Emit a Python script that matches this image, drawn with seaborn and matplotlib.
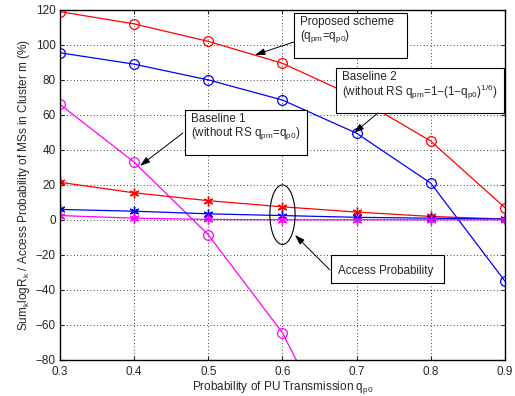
import numpy as np
import seaborn as sns
import matplotlib.pyplot as plt
from matplotlib.patches import Ellipse, Rectangle

# values
q_p0 = [0.3, 0.4, 0.5, 0.6, 0.7, 0.8, 0.9]
proposed_rate = [119, 112, 102, 89.5, 70, 45, 7]
baseline2_rate = [95.5, 89, 80, 68.5, 49.5, 21, -35]
baseline1_x = [0.3, 0.4, 0.5, 0.6, 0.7]
baseline1_rate = [66, 33, -8.5, -64.5, -148]
proposed_access = [21.5, 15.5, 11, 7.5, 4.5, 2, 0.5]
baseline2_access = [6, 5, 3.5, 2.5, 1.5, 1, 0.5]
baseline1_access = [2.5, 1, 0.3, 0.1, 0.1, 0.1, 0.1]

sns.set_style("ticks")
plt.rcParams['font.family'] = ['Liberation Sans', 'DejaVu Sans']
plt.rcParams['mathtext.default'] = 'regular'
plt.rcParams['xtick.direction'] = 'in'
plt.rcParams['ytick.direction'] = 'in'

fig = plt.figure(figsize=(5.15, 3.96), dpi=100)
ax = fig.add_axes([0.1165, 0.091, 0.864, 0.884])

lw = 0.9
series = [
    (q_p0, proposed_rate, '#ff0000', 'o'),
    (q_p0, baseline2_rate, '#0000ff', 'o'),
    (baseline1_x, baseline1_rate, '#ff00ff', 'o'),
    (q_p0, proposed_access, '#ff0000', '*'),
    (q_p0, baseline2_access, '#0000ff', '*'),
    (q_p0, baseline1_access, '#ff00ff', '*'),
]
for x, y, c, m in series:
    if m == 'o':
        sns.lineplot(x=x, y=y, color=c, lw=lw, ax=ax, marker='o', markersize=7,
                     markerfacecolor='none', markeredgecolor=c, markeredgewidth=0.9)
    else:
        # matlab-style asterisk
        sns.lineplot(x=x, y=y, color=c, lw=lw, ax=ax, marker=(6, 2, 0), markersize=7,
                     markerfacecolor=c, markeredgecolor=c, markeredgewidth=1.0)

ax.set_xlim(0.3, 0.9)
ax.set_ylim(-80, 120)
ax.set_xticks(np.arange(0.3, 0.91, 0.1))
ax.set_xticklabels(['0.3', '0.4', '0.5', '0.6', '0.7', '0.8', '0.9'])
ax.set_yticks(np.arange(-80, 121, 20))
ax.grid(True, linestyle=(0, (1, 3)), color='black', lw=0.6)
ax.tick_params(labelsize=8.5, top=True, right=True, length=3, width=0.8)
ax.tick_params(axis='x', pad=4)
ax.tick_params(axis='y', pad=3)
for s in ax.spines.values():
    s.set_linewidth(1.0)
    s.set_color('black')

ax.set_xlabel('Probability of PU Transmission q$_{p0}$', fontsize=8.5, labelpad=1)
ax.set_ylabel('Sum$_k$logR$_k$ / Access Probability of MSs in Cluster m (%)',
              fontsize=8.5, labelpad=3)

# annotation boxes
boxes = [
    ((0.6155, 92.6), 0.1525, 25.7, (0.624, 116.5),
     'Proposed scheme\n(q$_{pm}$=q$_{p0}$)', (0.6155, 101.7), (0.563, 94.3)),
    ((0.672, 61.1), 0.2266, 25.8, (0.68, 85),
     'Baseline 2\n(without RS q$_{pm}$=1$-$(1$-$q$_{p0}$)$^{1/6}$)', (0.7287, 61.1), (0.6964, 49.7)),
    ((0.4685, 37.1), 0.1645, 25.8, (0.477, 61),
     'Baseline 1\n(without RS q$_{pm}$=q$_{p0}$)', (0.4658, 49.7), (0.4079, 30.9)),
    ((0.6654, -36), 0.1523, 16, (0.675, -25.5),
     'Access Probability', (0.664, -28.6), (0.6168, -8.6)),
]
for (xy, w, h, txy, txt, tail, head) in boxes:
    ax.add_patch(Rectangle(xy, w, h, facecolor='white', edgecolor='black', lw=0.8, zorder=5))
    ax.text(txy[0], txy[1], txt, fontsize=8.4, va='top', ha='left', zorder=6, linespacing=1.0)
    ax.annotate('', xy=head, xytext=tail, zorder=6,
                arrowprops=dict(arrowstyle='-|>,head_length=0.6,head_width=0.2',
                                color='black', lw=0.7, shrinkA=0, shrinkB=0))

ax.add_patch(Ellipse((0.6, 3), 0.034, 34, facecolor='none', edgecolor='black', lw=0.8, zorder=5))

fig.savefig('out.png', dpi=100)
